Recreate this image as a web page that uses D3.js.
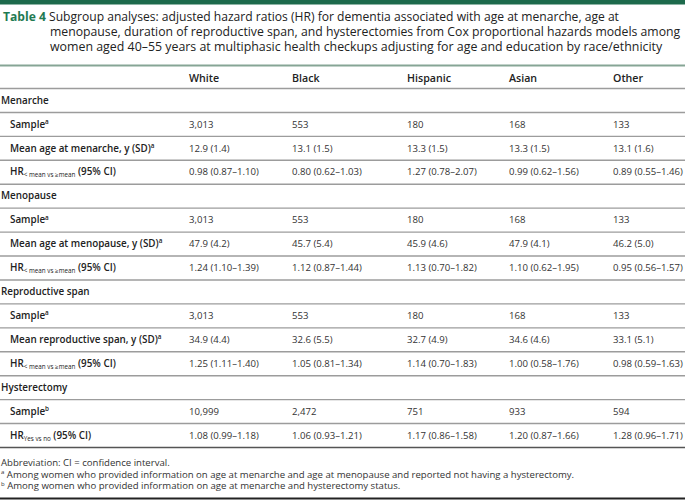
<!DOCTYPE html>
<html><head><meta charset="utf-8">
<script src="https://cdn.jsdelivr.net/npm/d3@7"></script>
<style>body{margin:0;background:#fff}svg{display:block;font-family:"Open Sans",sans-serif}</style>
</head><body><svg id="c" width="685" height="500"></svg>
<script>
const columns = ["White","Black","Hispanic","Asian","Other"];
const titleLines = [
  "Subgroup analyses: adjusted hazard ratios (HR) for dementia associated with age at menarche, age at",
  "menopause, duration of reproductive span, and hysterectomies from Cox proportional hazards models among",
  "women aged 40–55 years at multiphasic health checkups adjusting for age and education by race/ethnicity"
];
const groups = ["Menarche","Menopause","Reproductive span","Hysterectomy"];
const menarcheSample = ["3,013","553","180","168","133"];
const menarcheMean = ["12.9 (1.4)","13.1 (1.5)","13.3 (1.5)","13.3 (1.5)","13.1 (1.6)"];
const menarcheHR = ["0.98 (0.87–1.10)","0.80 (0.62–1.03)","1.27 (0.78–2.07)","0.99 (0.62–1.56)","0.89 (0.55–1.46)"];
const menopauseSample = ["3,013","553","180","168","133"];
const menopauseMean = ["47.9 (4.2)","45.7 (5.4)","45.9 (4.6)","47.9 (4.1)","46.2 (5.0)"];
const menopauseHR = ["1.24 (1.10–1.39)","1.12 (0.87–1.44)","1.13 (0.70–1.82)","1.10 (0.62–1.95)","0.95 (0.56–1.57)"];
const spanSample = ["3,013","553","180","168","133"];
const spanMean = ["34.9 (4.4)","32.6 (5.5)","32.7 (4.9)","34.6 (4.6)","33.1 (5.1)"];
const spanHR = ["1.25 (1.11–1.40)","1.05 (0.81–1.34)","1.14 (0.70–1.83)","1.00 (0.58–1.76)","0.98 (0.59–1.63)"];
const hystSample = ["10,999","2,472","751","933","594"];
const hystHR = ["1.08 (0.99–1.18)","1.06 (0.93–1.21)","1.17 (0.86–1.58)","1.20 (0.87–1.66)","1.28 (0.96–1.71)"];
const footnotes = [
  ["", "Abbreviation: CI = confidence interval."],
  ["a", " Among women who provided information on age at menarche and age at menopause and reported not having a hysterectomy."],
  ["b", " Among women who provided information on age at menarche and hysterectomy status."]
];

const rows = [
  {label:groups[0], group:true},
  {label:"Sample", sup:"a", values:menarcheSample},
  {label:"Mean age at menarche, y (SD)", sup:"a", values:menarcheMean},
  {label:"HR", sub:"< mean vs ≥mean", tail:" (95% CI)", values:menarcheHR},
  {label:groups[1], group:true},
  {label:"Sample", sup:"a", values:menopauseSample},
  {label:"Mean age at menopause, y (SD)", sup:"a", values:menopauseMean},
  {label:"HR", sub:"< mean vs ≥mean", tail:" (95% CI)", values:menopauseHR},
  {label:groups[2], group:true},
  {label:"Sample", sup:"a", values:spanSample},
  {label:"Mean reproductive span, y (SD)", sup:"a", values:spanMean},
  {label:"HR", sub:"< mean vs ≥mean", tail:" (95% CI)", values:spanHR},
  {label:groups[3], group:true},
  {label:"Sample", sup:"b", values:hystSample},
  {label:"HR", sub:"Yes vs no", tail:" (95% CI)", values:hystHR}
];

const svg = d3.select("#c");
const W = 685;

function fit(str, weight, target, base) {
  const t = svg.append("text").attr("font-size", base).attr("font-weight", weight).text(str);
  const w = t.node().getComputedTextLength();
  t.remove();
  return base * target / w;
}
const fsVal = Math.min(10.2, fit("0.89 (0.55–1.46)", 400, 70, 10));
const fsLabel = Math.min(10.4, fit("Mean age at menarche, y (SD)", 600, 141, 10));
const fsHdr = Math.min(11, fit("Hispanic", 600, 44, 10));

const x = d3.scaleOrdinal().domain(columns).range([189, 292, 407, 509, 613]);
const y = d3.scaleBand().domain(d3.range(rows.length)).range([88.5, 447.5]);

svg.append("rect").attr("x",0).attr("y",0).attr("width",W).attr("height",4.5).attr("fill","#1d6a4c");

// title
const tl = [21, 36.2, 51.4];
const tx = [3, 50, 50];
const targets = [616, 630, 612];
titleLines.forEach((s,i)=>{
  const t = svg.append("text").attr("x",tx[i]).attr("y",tl[i]).attr("font-size",13.2).attr("fill","#222");
  if (i===0) t.append("tspan").attr("font-weight",700).attr("fill","#1f7a52").text("Table 4 ");
  t.append("tspan").text(s);
  const len = t.node().getComputedTextLength();
  t.attr("font-size", Math.min(14, 13.2*targets[i]/len));
});

svg.append("line").attr("x1",0).attr("x2",W).attr("y1",65.5).attr("y2",65.5).attr("stroke","#86a595").attr("stroke-width",2);

// header
svg.selectAll("text.hdr").data(columns).join("text").attr("class","hdr")
  .attr("x",d=>x(d)).attr("y",81.5).attr("font-size",fsHdr).attr("font-weight",600).attr("fill","#222").text(d=>d);

// row lines
const nLines = d3.range(rows.length+1);
const ly = i => i<rows.length ? y(i) : y(rows.length-1)+y.bandwidth();
svg.selectAll("line.rl").data(nLines).join("line").attr("class","rl")
  .attr("x1",0).attr("x2",W)
  .attr("y1",ly).attr("y2",ly)
  .attr("stroke",i=> i===rows.length ? "#555" : "#9c9c9c")
  .attr("stroke-width",i=> i===rows.length ? 1.6 : 1.4);

// rows
const rg = svg.selectAll("g.row").data(rows).join("g").attr("class","row")
  .attr("transform",(d,i)=>`translate(0,${y(i)+y.bandwidth()/2+3.2})`);
rg.each(function(d){
  const g = d3.select(this);
  const t = g.append("text").attr("x", d.group?1:10).attr("y",0).attr("font-size",fsLabel)
    .attr("font-weight",600).attr("fill","#222");
  t.append("tspan").text(d.label);
  if (d.sub) {
    t.append("tspan").attr("font-size",6.3).attr("dy",2).attr("font-weight",400).text(d.sub);
    t.append("tspan").attr("dy",-2).text(d.tail);
  }
  if (d.sup) {
    t.append("tspan").attr("font-size",6.3).attr("dy",-3.8).text(d.sup);
  }
  if (d.values) {
    g.selectAll("text.v").data(d.values).join("text").attr("class","v")
      .attr("x",(v,j)=>x(columns[j])).attr("y",0).attr("font-size",fsVal).attr("fill","#333").text(v=>v);
  }
});

// footnotes
const fsFoot = Math.min(10, fit(footnotes[1][1], 400, 568, 9.5));
const fy = [466, 477.5, 489];
footnotes.forEach((f,i)=>{
  const t = svg.append("text").attr("x",1).attr("y",fy[i]).attr("font-size",fsFoot).attr("fill","#333");
  if (f[0]) t.append("tspan").attr("font-size",6).attr("dy",-3.5).text(f[0]);
  t.append("tspan").attr("dy", f[0]?3.5:0).text(f[1]);
});
svg.append("line").attr("x1",0).attr("x2",W).attr("y1",498.5).attr("y2",498.5).attr("stroke","#222").attr("stroke-width",2);
</script></body></html>
